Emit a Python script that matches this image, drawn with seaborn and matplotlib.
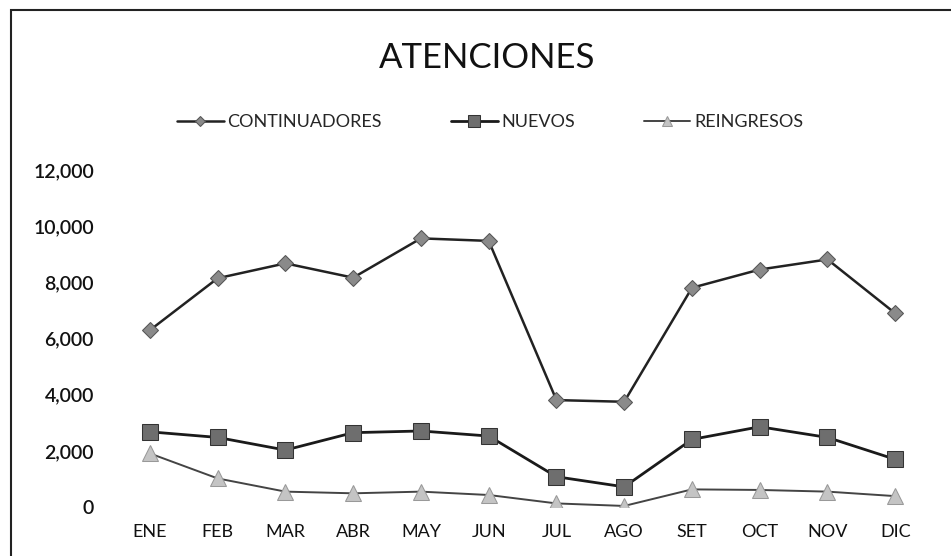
import numpy as np
import pandas as pd
import matplotlib
matplotlib.use("Agg")
import matplotlib.pyplot as plt
import seaborn as sns
from matplotlib.patches import Rectangle

meses = ["ENE", "FEB", "MAR", "ABR", "MAY", "JUN", "JUL", "AGO", "SET", "OCT", "NOV", "DIC"]
continuadores = [6300, 8150, 8680, 8170, 9570, 9480, 3810, 3750, 7810, 8460, 8820, 6900]
nuevos = [2680, 2480, 2030, 2650, 2710, 2530, 1080, 720, 2410, 2860, 2480, 1700]
reingresos = [1910, 1020, 550, 490, 550, 430, 130, 40, 630, 610, 550, 390]
yticks = [0, 2000, 4000, 6000, 8000, 10000, 12000]

df = pd.DataFrame({"mes": meses, "CONTINUADORES": continuadores,
                   "NUEVOS": nuevos, "REINGRESOS": reingresos})

sns.set_theme(style="white")
plt.rcParams['font.family'] = ['Lato', 'DejaVu Sans']

fig = plt.figure(figsize=(9.51, 5.56), dpi=100)
ax = fig.add_axes([0.122, 0.088, 0.855, 0.606])

sns.lineplot(data=df, x="mes", y="CONTINUADORES", ax=ax, sort=False, color="#222222",
             linewidth=1.8, marker="D", markersize=8, markerfacecolor="#8a8a8a",
             markeredgecolor="#555555", label="CONTINUADORES")
sns.lineplot(data=df, x="mes", y="NUEVOS", ax=ax, sort=False, color="#1a1a1a",
             linewidth=2.0, marker="s", markersize=12, markerfacecolor="#6e6e6e",
             markeredgecolor="#333333", label="NUEVOS")
sns.lineplot(data=df, x="mes", y="REINGRESOS", ax=ax, sort=False, color="#444444",
             linewidth=1.4, marker="^", markersize=11, markerfacecolor="#c4c4c4",
             markeredgecolor="#999999", label="REINGRESOS")

ax.set_ylim(0, 12000)
ax.set_xlim(-0.5, len(meses) - 0.5)
ax.set_yticks(yticks, [f"{v:,}" for v in yticks], fontsize=14, color="#111111",
              fontweight="semibold")
ax.tick_params(axis='x', labelsize=13, length=0, pad=12, colors="#111111")
ax.tick_params(axis='y', length=0, pad=16)
ax.set_xlabel("")
ax.set_ylabel("")
for s in ax.spines.values():
    s.set_visible(False)
ax.patch.set_alpha(0)

ax.legend(loc="lower center", bbox_to_anchor=(0.46, 1.07), ncol=3, frameon=False,
          fontsize=13, handlelength=2.6, handletextpad=0.2, columnspacing=3.8,
          numpoints=1, markerscale=0.7)

fig.text(0.512, 0.896, "ATENCIONES", ha="center", va="center", fontsize=25, color="#111111")

fig.patches.append(Rectangle((11 / 951, -0.1), 1.2, 1 - 10 / 556 + 0.1, transform=fig.transFigure,
                             fill=False, edgecolor="#222222", linewidth=1.5))

fig.savefig("out.png", dpi=100)
